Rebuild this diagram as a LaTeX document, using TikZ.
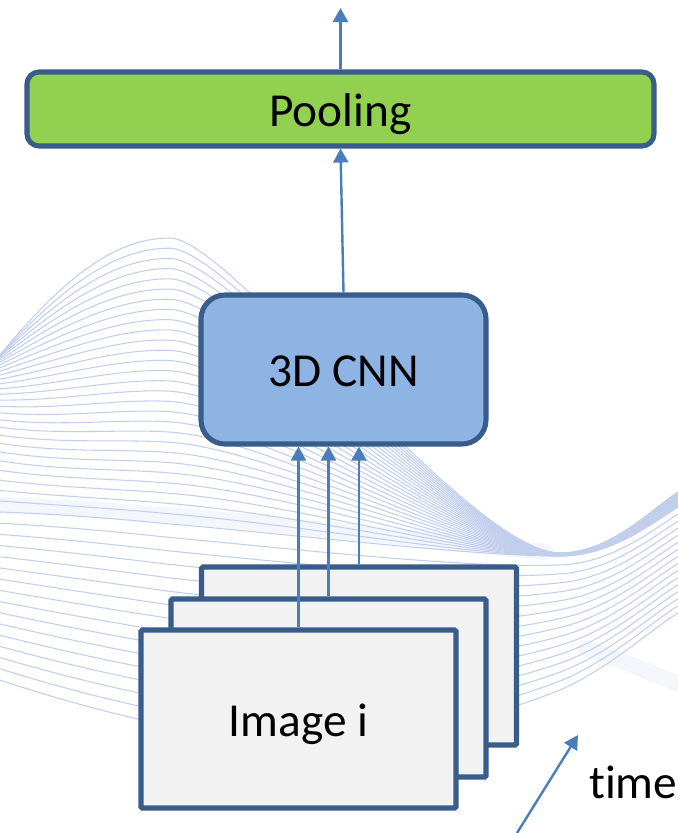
\documentclass[tikz,border=0pt]{standalone}
\usepackage{fontspec}
\setmainfont{Carlito}[Ligatures=NoCommon]
\usetikzlibrary{arrows.meta,calc}
\definecolor{edge}{HTML}{385D8A}
\definecolor{arrowc}{HTML}{4A7EBB}
\definecolor{poolfill}{HTML}{92D050}
\definecolor{cnnfill}{HTML}{8EB4E3}
\definecolor{framefill}{HTML}{F2F2F2}
\definecolor{wavec}{HTML}{C2CFEC}
\definecolor{bandc}{HTML}{D3DDF2}
\tikzset{
  box/.style={draw=edge, line width=3.8pt, inner sep=0pt,
    text height=25.5pt, text depth=0pt, font=\fontsize{35.5}{42}\selectfont},
  poolbox/.style={box, fill=poolfill, rounded corners=9pt,
    minimum width=470.25pt, minimum height=55.5pt},
  cnnbox/.style={box, fill=cnnfill, rounded corners=18pt,
    minimum width=213.75pt, minimum height=111.75pt},
  framebox/.style={box, fill=framefill, rounded corners=1pt,
    minimum width=236.25pt, minimum height=133.5pt},
  flow/.style={draw=arrowc, line width=1.8pt,
    -{Triangle[length=10.5pt,width=11.25pt]}},
  wave/.style={draw=wavec, line width=0.8pt},
  band/.style={draw=bandc, line width=12pt, opacity=0.25, line cap=round},
  timelabel/.style={font=\fontsize{35.5}{42}\selectfont, inner sep=0pt, anchor=base west}
}
\begin{document}
\begin{tikzpicture}[x=0.75pt,y=-0.75pt]
\useasboundingbox[fill=white] (0,0) rectangle (678,833);

% key curves of the background wave: top (A), middle (M), bottom (B)
\coordinate (A0) at (0,355);   \coordinate (A1) at (70,270);  \coordinate (A2) at (120,238);
\coordinate (A3) at (170,238); \coordinate (A4) at (230,238); \coordinate (A5) at (470,553);
\coordinate (A6) at (560,553); \coordinate (A7) at (610,553); \coordinate (A8) at (650,510);
\coordinate (A9) at (678,492);
\coordinate (M0) at (0,512);   \coordinate (M1) at (60,514);  \coordinate (M2) at (120,519);
\coordinate (M3) at (170,524); \coordinate (M4) at (300,535); \coordinate (M5) at (470,556);
\coordinate (M6) at (560,556); \coordinate (M7) at (610,556); \coordinate (M8) at (650,525);
\coordinate (M9) at (678,507);
\coordinate (B0) at (0,680);   \coordinate (B1) at (60,700);  \coordinate (B2) at (120,716);
\coordinate (B3) at (170,726); \coordinate (B4) at (300,752); \coordinate (B5) at (420,745);
\coordinate (B6) at (560,690); \coordinate (B7) at (610,668); \coordinate (B8) at (650,630);
\coordinate (B9) at (678,613);

% soft pale bands behind the lines
\draw[band] (0,505) .. controls (150,510) and (350,532) .. (545,552);
\draw[band] (585,648) .. controls (620,660) and (650,672) .. (678,684);

% upper bundle, pinched towards the lower right
\foreach \i in {0,...,28} {
  \pgfmathsetmacro\t{\i/28}
  \pgfmathsetmacro\s{\t*\t}
  \draw[wave] ($(A0)!\s!(M0)$) .. controls ($(A1)!\t!(M1)$) and ($(A2)!\t!(M2)$) .. ($(A3)!\t!(M3)$)
    .. controls ($(A4)!\t!(M4)$) and ($(A5)!\t!(M5)$) .. ($(A6)!\t!(M6)$)
    .. controls ($(A7)!\t!(M7)$) and ($(A8)!\t!(M8)$) .. ($(A9)!\t!(M9)$);
}
% lower bundle
\foreach \i in {1,...,15} {
  \pgfmathsetmacro\t{\i/15}
  \draw[wave] ($(M0)!\t!(B0)$) .. controls ($(M1)!\t!(B1)$) and ($(M2)!\t!(B2)$) .. ($(M3)!\t!(B3)$)
    .. controls ($(M4)!\t!(B4)$) and ($(M5)!\t!(B5)$) .. ($(M6)!\t!(B6)$)
    .. controls ($(M7)!\t!(B7)$) and ($(M8)!\t!(B8)$) .. ($(M9)!\t!(B9)$);
}

% network blocks
\node[poolbox] (pool) at (340.5,109) {Pooling};
\node[cnnbox] (cnn) at (343.5,369.5) {3D CNN};
\node[framebox] (back) at (359,656) {};
\node[framebox] (mid) at (328.5,688) {};
\node[framebox] (front) at (298.5,719) {Image i};

% connectors
\coordinate (out) at (340.5,8);
\draw[flow] (pool.north) -- (out);
\draw[flow] (cnn.north) -- (pool.south);
\draw[flow] (front.north) -- (front.north |- cnn.south);
\draw[flow] (mid.north) -- (mid.north |- cnn.south);
\draw[flow] (back.north) -- (back.north |- cnn.south);

% time axis
\coordinate (t0) at (517,833);
\coordinate (t1) at (578,735);
\draw[flow] (t0) -- (t1);
\node[timelabel] (time) at (589,798) {time};
\end{tikzpicture}
\end{document}
